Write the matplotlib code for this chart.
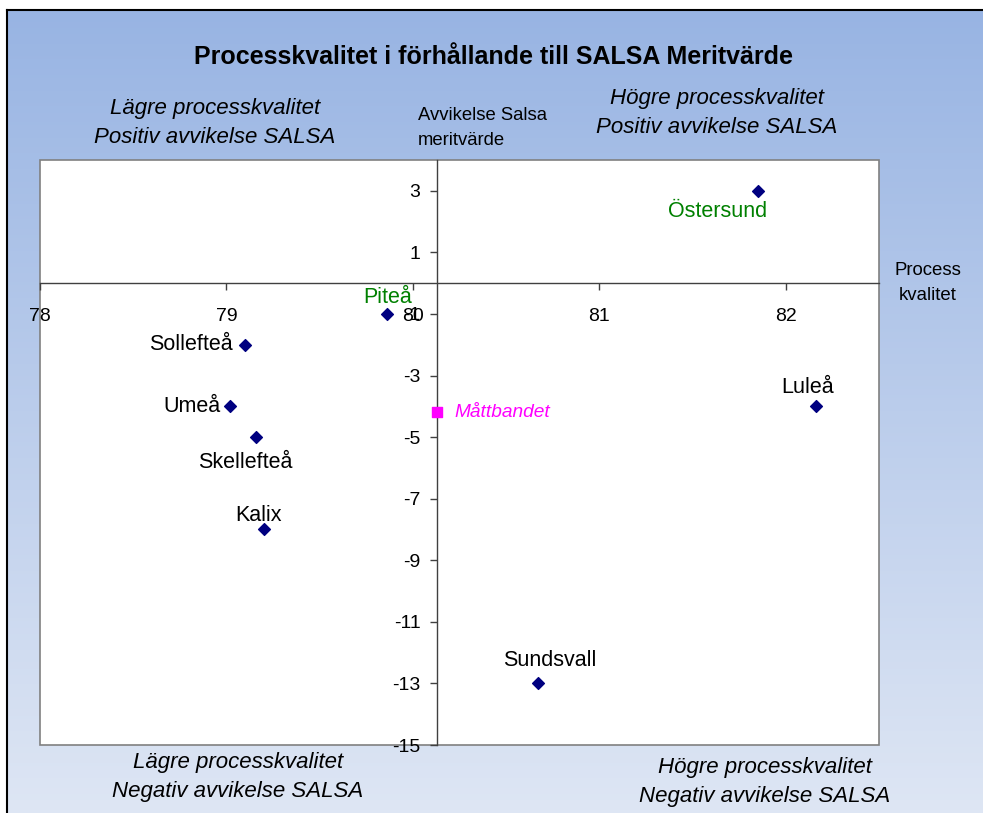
import matplotlib
matplotlib.use('Agg')
import matplotlib.pyplot as plt
import numpy as np
from matplotlib import font_manager

# ---------------- data ----------------
cities = ['Östersund', 'Luleå', 'Sundsvall', 'Piteå', 'Sollefteå', 'Umeå', 'Skellefteå', 'Kalix']
process_quality = [81.85, 82.16, 80.67, 79.86, 79.10, 79.02, 79.16, 79.20]
salsa_deviation = [3, -4, -13, -1, -2, -4, -5, -8]

reference_name = 'Måttbandet'
reference_process = 80.13
reference_salsa = -4.2

x_ticks = [78, 79, 80, 81, 82]
y_ticks = [-15, -13, -11, -9, -7, -5, -3, -1, 1, 3]

title = 'Processkvalitet i förhållande till SALSA Meritvärde'
y_title = 'Avvikelse Salsa\nmeritvärde'
x_title = 'Process\nkvalitet'
q_upper_left = 'Lägre processkvalitet\nPositiv avvikelse SALSA'
q_upper_right = 'Högre processkvalitet\nPositiv avvikelse SALSA'
q_lower_left = 'Lägre processkvalitet\nNegativ avvikelse SALSA'
q_lower_right = 'Högre processkvalitet\nNegativ avvikelse SALSA'

# ---------------- styles ----------------
label_style = {
    'Östersund': dict(off=(-40, -21), ha='center', color='#008000'),
    'Luleå': dict(off=(-8, 19), ha='center', color='black'),
    'Sundsvall': dict(off=(12, 23), ha='center', color='black'),
    'Piteå': dict(off=(1, 16), ha='center', color='#008000'),
    'Sollefteå': dict(off=(-12, 0), ha='right', color='black'),
    'Umeå': dict(off=(-10, 0), ha='right', color='black'),
    'Skellefteå': dict(off=(-11, -25), ha='center', color='black'),
    'Kalix': dict(off=(-5, 14), ha='center', color='black'),
}

names = {f.name for f in font_manager.fontManager.ttflist}
base = 'Liberation Sans' if 'Liberation Sans' in names else 'DejaVu Sans'
if 'Liberation Sans Narrow' in names:
    qfont, qsize = 'Liberation Sans Narrow', 19
else:
    qfont, qsize = base, 16
plt.rcParams['font.family'] = [base, 'DejaVu Sans']

W, H = 983, 813
fig = plt.figure(figsize=(W / 100, H / 100), dpi=100)
fig.patch.set_facecolor('white')

def fx(px):
    return px / W

def fy(py):
    return 1 - py / H

# background gradient panel
bg = fig.add_axes([fx(7), 0, 1 - fx(7), 1 - 10 / H], zorder=0)
top = np.array([152, 180, 227]) / 255
bot = np.array([222, 230, 244]) / 255
t = np.linspace(0, 1, 256)[:, None]
grad = (top[None, :] * (1 - t) + bot[None, :] * t)[:, None, :]
bg.imshow(grad, aspect='auto', extent=[0, 1, 0, 1], origin='upper')
bg.set_xlim(0, 1)
bg.set_ylim(0, 1)
bg.set_xticks([])
bg.set_yticks([])
for s in ['right', 'bottom']:
    bg.spines[s].set_visible(False)
for s in ['left', 'top']:
    bg.spines[s].set_color('black')
    bg.spines[s].set_linewidth(1.5)

# plot area
ax = fig.add_axes([fx(40), 1 - 745 / H, fx(879) - fx(40), (745 - 160) / H], zorder=2)
ax.set_facecolor('white')
ax.set_xlim(78, 82.5)
ax.set_ylim(-15, 4)

ax.spines['left'].set_position(('data', reference_process))
ax.spines['bottom'].set_position(('data', 0))
for s in ['left', 'bottom']:
    ax.spines[s].set_color('#404040')
    ax.spines[s].set_linewidth(1.0)
for s in ['top', 'right']:
    ax.spines[s].set_visible(False)
ax.add_patch(plt.Rectangle((0, 0), 1, 1, transform=ax.transAxes, fill=False,
                           edgecolor='#808080', lw=1.2, clip_on=False, zorder=1))

ax.set_xticks(x_ticks)
ax.set_yticks(y_ticks)
ax.set_xticklabels([str(v) for v in x_ticks])
ax.set_yticklabels([str(v) for v in y_ticks])
ax.tick_params(axis='x', direction='out', length=5, width=1, color='#404040',
               pad=13, labelsize=14, labelcolor='black')
ax.tick_params(axis='y', direction='out', length=5, width=1, color='#404040',
               pad=7, labelsize=14, labelcolor='black')

ax.scatter(process_quality, salsa_deviation, marker='D', s=36, color='#000080',
           zorder=5, clip_on=False)
ax.scatter([reference_process], [reference_salsa], marker='s', s=44, color='#FF00FF',
           zorder=5, clip_on=False)

for name, xv, yv in zip(cities, process_quality, salsa_deviation):
    st = label_style[name]
    ax.annotate(name, (xv, yv), xytext=st['off'], textcoords='offset pixels',
                ha=st['ha'], va='center', fontsize=15.5, color=st['color'], zorder=6)
ax.annotate(reference_name, (reference_process, reference_salsa), xytext=(17, 0),
            textcoords='offset pixels', ha='left', va='center', fontsize=13.8,
            style='italic', color='#FF00FF', zorder=6)

# texts around
fig.text(fx(493), fy(57), title, ha='center', va='center', fontsize=18,
         fontweight='bold', zorder=10)
fig.text(fx(418), fy(128), y_title, ha='left', va='center', fontsize=13.3,
         linespacing=1.55, zorder=10)
fig.text(fx(928), fy(283), x_title, ha='center', va='center', fontsize=13.4,
         linespacing=1.55, zorder=10)

qkw = dict(ha='center', va='center', fontsize=qsize, style='italic',
           family=[qfont, 'DejaVu Sans'], linespacing=1.5, zorder=10)
fig.text(fx(215), fy(123), q_upper_left, **qkw)
fig.text(fx(717), fy(113), q_upper_right, **qkw)
fig.text(fx(238), fy(777), q_lower_left, **qkw)
fig.text(fx(765), fy(782), q_lower_right, **qkw)

fig.savefig('out.png', dpi=100, facecolor=fig.get_facecolor())
